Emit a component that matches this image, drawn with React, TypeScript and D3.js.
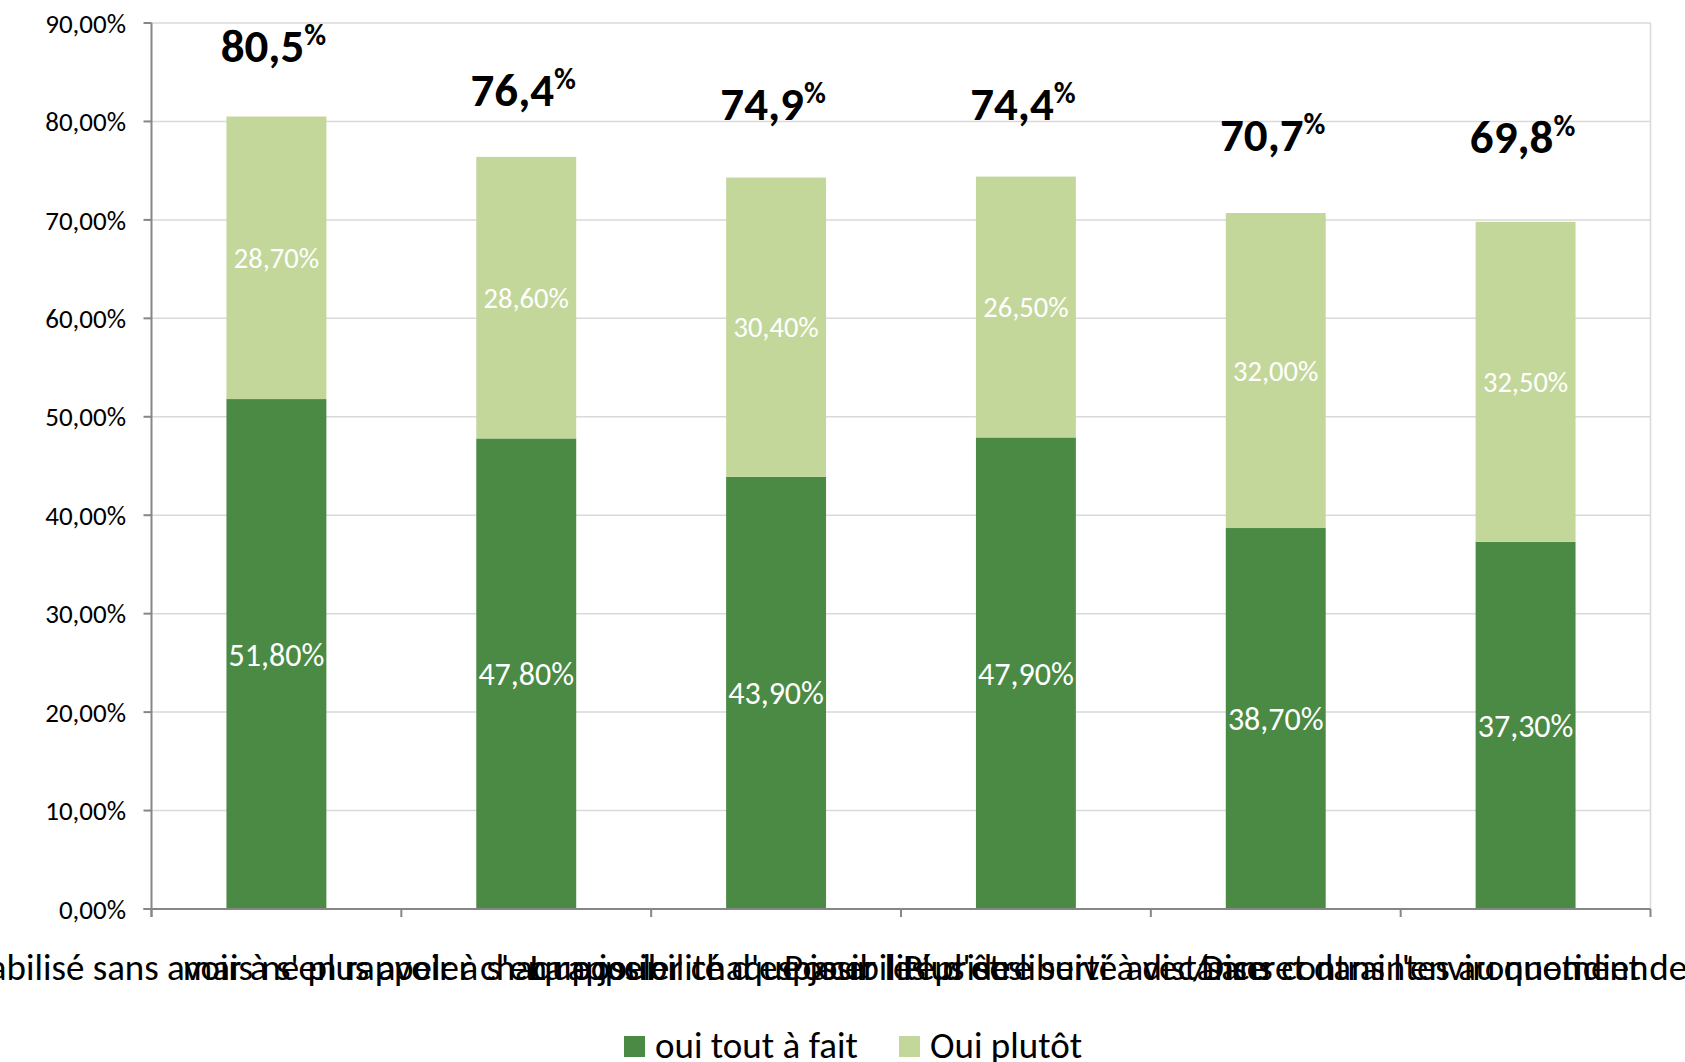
import React from "react";
import * as d3 from "d3";

const categories = [
  "Être stabilisé sans avoir à s'en rappeler chaque jour",
  "mais ne plus avoir à s'en rappeler chaque jour",
  "La possibilité d'espacer les prises",
  "Possibilité d'être suivi à distance",
  "Plus de liberté avec/sans contraintes au quotidien",
  "Discret dans l'environnement des collègues",
];
const seriesNames = ["oui tout à fait", "Oui plutôt"];
const toutAFait = [51.8, 47.8, 43.9, 47.9, 38.7, 37.3];
const plutot = [28.7, 28.6, 30.4, 26.5, 32.0, 32.5];
const totals = [80.5, 76.4, 74.9, 74.4, 70.7, 69.8];
// baseline anchors of the total annotations, in axis units (%)
const totalLabelAnchor = [86.0, 81.6, 80.1, 80.1, 77.0, 76.8];
const yTicks = [0, 10, 20, 30, 40, 50, 60, 70, 80, 90];

const W = 1685;
const H = 1062;
const FONT = "Carlito, Calibri, Lato, 'Open Sans', sans-serif";
const DARK = "#4b8a45";
const LIGHT = "#c4d79b";

const locale = d3.formatLocale({
  decimal: ",",
  thousands: " ",
  grouping: [3],
  currency: ["", " €"],
});
const f2 = locale.format(".2f");
const f1 = locale.format(".1f");

export default function App() {
  const left = 151.5;
  const right = 1650.5;
  const top = 23;
  const bottom = 909;

  const x = d3
    .scaleBand<number>()
    .domain(d3.range(categories.length))
    .range([left, right])
    .paddingInner(0.6)
    .paddingOuter(0.3);
  const y = d3.scaleLinear().domain([0, 90]).range([bottom, top]);
  const step = x.step();
  const bw = x.bandwidth();

  const stack = d3.stack<number>().keys(["a", "b"]).value((i, k) =>
    k === "a" ? toutAFait[i] : plutot[i]
  );
  const stacked = stack(d3.range(categories.length));
  const colors = [DARK, LIGHT];

  return (
    <div style={{ position: "absolute", left: 0, top: 0 }}>
      <svg width={W} height={H} style={{ display: "block", background: "#fff" }} fontFamily={FONT}>
        <rect x={0} y={0} width={W} height={H} fill="#fff" />
        {/* gridlines */}
        {yTicks.filter((t) => t > 0).map((t) => (
          <line key={t} x1={left} x2={right} y1={y(t)} y2={y(t)} stroke="#d9d9d9" strokeWidth={1.5} />
        ))}
        <line x1={right} x2={right} y1={top} y2={bottom} stroke="#d9d9d9" strokeWidth={1.5} />
        {/* bars */}
        {stacked.map((layer, li) =>
          layer.map((d, i) => (
            <rect
              key={`${li}-${i}`}
              x={x(i)!}
              y={y(d[1])}
              width={bw}
              height={y(d[0]) - y(d[1])}
              fill={colors[li]}
            />
          ))
        )}
        {/* segment labels */}
        {stacked.map((layer, li) =>
          layer.map((d, i) => (
            <text
              key={`l${li}-${i}`}
              x={x(i)! + bw / 2}
              y={(y(d[0]) + y(d[1])) / 2}
              dy="0.36em"
              textAnchor="middle"
              fill="#fff"
              fontSize={li === 0 ? 32 : 28.5}
            >
              {f2(li === 0 ? toutAFait[i] : plutot[i]) + "%"}
            </text>
          ))
        )}
        {/* total labels */}
        {totals.map((t, i) => (
          <text
            key={`t${i}`}
            x={x(i)! + bw / 2 - 3}
            y={y(totalLabelAnchor[i])}
            textAnchor="middle"
            fontWeight="bold"
            fontSize={47}
            fill="#000"
          >
            {f1(t)}
            <tspan fontSize={30} dy={-17}>%</tspan>
          </text>
        ))}
        {/* axes */}
        <line x1={left} x2={left} y1={top} y2={bottom + 8} stroke="#868686" strokeWidth={2} />
        <line x1={left - 8} x2={right} y1={bottom} y2={bottom} stroke="#868686" strokeWidth={2} />
        {yTicks.map((t) => (
          <g key={`yt${t}`}>
            <line x1={left - 8} x2={left} y1={y(t)} y2={y(t)} stroke="#868686" strokeWidth={2} />
            <text x={126} y={y(t)} dy="0.36em" textAnchor="end" fontSize={27} fill="#000">
              {f2(t) + "%"}
            </text>
          </g>
        ))}
        {d3.range(categories.length + 1).map((i) => (
          <line
            key={`xt${i}`}
            x1={left + i * step}
            x2={left + i * step}
            y1={bottom}
            y2={bottom + 8}
            stroke="#868686"
            strokeWidth={2}
          />
        ))}
        {categories.map((c, i) => (
          <text key={`c${i}`} x={x(i)! + bw / 2} y={980} textAnchor="middle" fontSize={37} fill="#000">
            {c}
          </text>
        ))}
        {/* legend */}
        {seriesNames.map((s, i) => {
          const lx = i === 0 ? 624 : 899;
          return (
            <g key={s}>
              <rect x={lx} y={1036} width={21} height={21} fill={colors[i]} />
              <text x={lx + 31} y={1058} fontSize={37} fill="#000">
                {s}
              </text>
            </g>
          );
        })}
      </svg>
    </div>
  );
}
